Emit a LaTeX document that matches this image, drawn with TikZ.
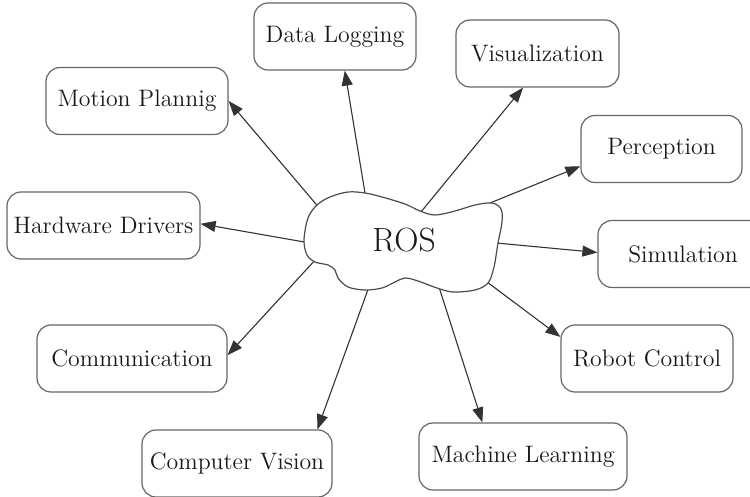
\documentclass[tikz,border=0pt]{standalone}
\usetikzlibrary{arrows.meta,calc,backgrounds}

\begin{document}
\begin{tikzpicture}
  [
    x=0.5pt, y=-0.5pt,
    box/.style={draw=black!60, line width=0.6pt, rounded corners=7pt, minimum height=33.5pt, inner sep=0pt, text=black!90, font=\fontsize{11.9}{14}\selectfont},
    link/.style={->, >={Triangle[length=7.5pt,width=5.5pt]}, draw=black!80, line width=0.55pt}
  ]
  \useasboundingbox (0,0) rectangle (750,497);
  \node [font=\fontsize{16.8}{20}\selectfont, text=black!90] at (404,240) (ros) {ROS};
  \node [box, minimum width=81pt] at (335,36.5) (dlog) {Data Logging};
  \node [box, minimum width=81.5pt] at (537.5,53.5) (vis) {Visualization};
  \node [box, minimum width=91pt] at (137,101) (mp) {Motion Plannig};
  \node [box, minimum width=80.5pt] at (661.5,149) (perc) {Perception};
  \node [box, minimum width=96.5pt] at (103.5,225.5) (hd) {Hardware Drivers};
  \node [box, minimum width=85pt] at (683,254) (sim) {Simulation};
  \node [box, minimum width=95pt] at (132,358.5) (comm) {Communication};
  \node [box, minimum width=86pt] at (647,358.5) (rc) {Robot Control};
  \node [box, minimum width=95pt] at (237,463.5) (cv) {Computer Vision};
  \node [box, minimum width=104pt] at (523,456.5) (ml) {Machine Learning};

  \begin{pgfonlayer}{background}
    \draw [link] ($(ros)+(-38,-41)$) -- (dlog.-74);
    \draw [link] ($(ros)+(12,-22)$) -- (vis.247);
    \draw [link] ($(ros)+(75,-32.5)$) -- (perc.192);
    \draw [link] ($(ros)+(87,2.5)$) -- (sim.179);
    \draw [link] ($(ros)+(79,39)$) -- (rc.166.4);
    \draw [link] ($(ros)+(34,44)$) -- (ml.140);
    \draw [link] ($(ros)+(-34,44)$) -- (cv.23);
    \draw [link] ($(ros)+(-87,18)$) -- (comm.2);
    \draw [link] ($(ros)+(-94,3)$) -- (hd.1);
    \draw [link] ($(ros)+(-83,-30)$) -- (mp.east);
    % cloud outline
    \draw [draw=black!70, line width=0.6pt, fill=white] plot [smooth cycle, tension=0.55] coordinates {
      (304,240) (308,218) (317,205) (330,197) (348,192) (365,193) (382,197)
      (405,204) (420,211) (435,215) (455,211) (475,205) (492,203) (501,209)
      (502,222) (498,243) (494,267) (488,283) (475,290) (453,292) (437,288)
      (418,281) (405,278) (395,282) (382,288) (365,290) (348,287) (338,278)
      (335,270) (328,265) (315,262) (307,255)};
  \end{pgfonlayer}

\end{tikzpicture}
\end{document}
